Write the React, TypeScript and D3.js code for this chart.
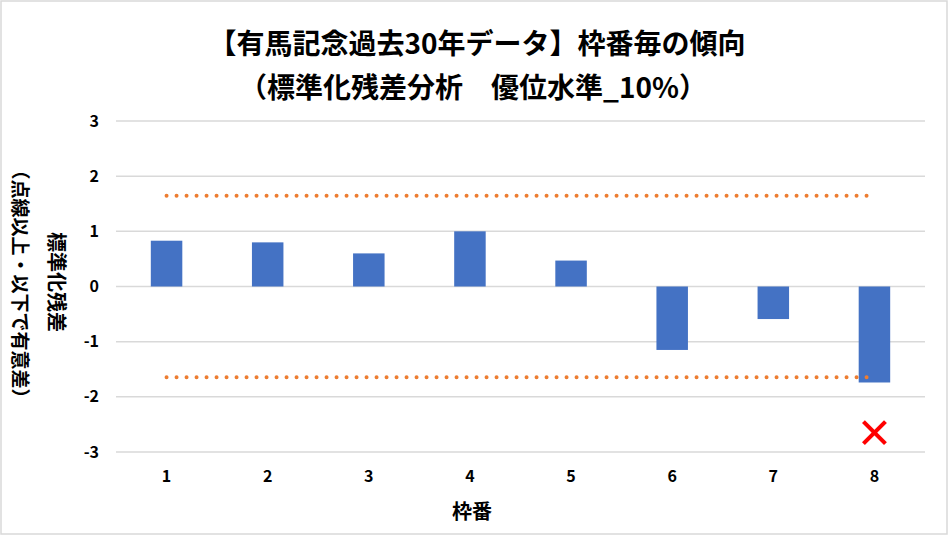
import React from "react";
import * as d3 from "d3";

const categories = ["1", "2", "3", "4", "5", "6", "7", "8"];
const residuals = [0.83, 0.8, 0.6, 1.0, 0.47, -1.15, -0.59, -1.74];
const upperBound = [1.645, 1.645, 1.645, 1.645, 1.645, 1.645, 1.645, 1.645];
const lowerBound = [-1.645, -1.645, -1.645, -1.645, -1.645, -1.645, -1.645, -1.645];
const markerCategory = ["8"];
const markerValue = [-2.65];
const yTicks = [3, 2, 1, 0, -1, -2, -3];

const titleLine1 = "【有馬記念過去30年データ】枠番毎の傾向";
const titleLine2 = "（標準化残差分析　優位水準_10%）";
const yTitle1 = "標準化残差";
const yTitle2 = "（点線以上・以下で有意差）";
const xTitle = "枠番";

const W = 949;
const H = 536;
const FONT = "'Noto Sans CJK JP', 'Noto Sans', sans-serif";

export default function App() {
  const x = d3.scaleBand<string>().domain(categories).range([116, 925]).paddingInner(0).paddingOuter(0);
  const y = d3.scaleLinear().domain([-3, 3]).range([452, 121]);
  const barW = 31.5;
  const cx = (c: string) => (x(c) as number) + x.bandwidth() / 2;

  const line = d3
    .line<number>()
    .x((_, i) => cx(categories[i]))
    .y((d) => y(d));

  return (
    <svg
      width={W}
      height={H}
      style={{ position: "absolute", left: 0, top: 0, background: "#fff" }}
      fontFamily={FONT}
    >
      <rect x={1} y={1} width={W - 3} height={H - 3} fill="#fff" stroke="#d9d9d9" strokeWidth={1.5} />

      {/* title */}
      <text x={477} y={54} textAnchor="middle" fontSize={28} fontWeight="bold" fill="#000">
        {titleLine1}
      </text>
      <text x={473} y={98} textAnchor="middle" fontSize={28} fontWeight="bold" fill="#000">
        {titleLine2}
      </text>

      {/* gridlines */}
      {yTicks.map((t) => (
        <line key={"g" + t} x1={116} x2={925} y1={y(t)} y2={y(t)} stroke="#d9d9d9" strokeWidth={1.5} />
      ))}
      {/* y tick labels */}
      {yTicks.map((t) => (
        <text
          key={"t" + t}
          x={99}
          y={y(t)}
          dy="0.35em"
          textAnchor="end"
          fontSize={16}
          fontWeight="bold"
          fill="#000"
        >
          {t}
        </text>
      ))}

      {/* bars */}
      {residuals.map((v, i) => (
        <rect
          key={"b" + i}
          x={cx(categories[i]) - barW / 2}
          y={Math.min(y(v), y(0))}
          width={barW}
          height={Math.abs(y(v) - y(0))}
          fill="#4472C4"
        />
      ))}

      {/* bounds */}
      {[upperBound, lowerBound].map((arr, k) => (
        <path
          key={"l" + k}
          d={line(arr) as string}
          fill="none"
          stroke="#ED7D31"
          strokeWidth={4}
          strokeLinecap="round"
          strokeDasharray="0 10"
        />
      ))}

      {/* marker */}
      {markerCategory.map((c, i) => {
        const mx = cx(c);
        const my = y(markerValue[i]);
        const s = 11;
        return (
          <g key={"m" + i} stroke="#FF0000" strokeWidth={4}>
            <line x1={mx - s} y1={my - s} x2={mx + s} y2={my + s} />
            <line x1={mx - s} y1={my + s} x2={mx + s} y2={my - s} />
          </g>
        );
      })}

      {/* x labels */}
      {categories.map((c) => (
        <text key={"x" + c} x={cx(c)} y={482} textAnchor="middle" fontSize={16} fontWeight="bold" fill="#000">
          {c}
        </text>
      ))}
      <text x={472} y={519} textAnchor="middle" fontSize={20} fontWeight="bold" fill="#000">
        {xTitle}
      </text>

      {/* y titles */}
      <text
        transform={`translate(49,282) rotate(90)`}
        textAnchor="middle"
        fontSize={20}
        fontWeight="bold"
        fill="#000"
      >
        {yTitle1}
      </text>
      <text
        transform={`translate(13,284) rotate(90)`}
        textAnchor="middle"
        fontSize={19}
        fontWeight="bold"
        fill="#000"
      >
        {yTitle2}
      </text>
    </svg>
  );
}
